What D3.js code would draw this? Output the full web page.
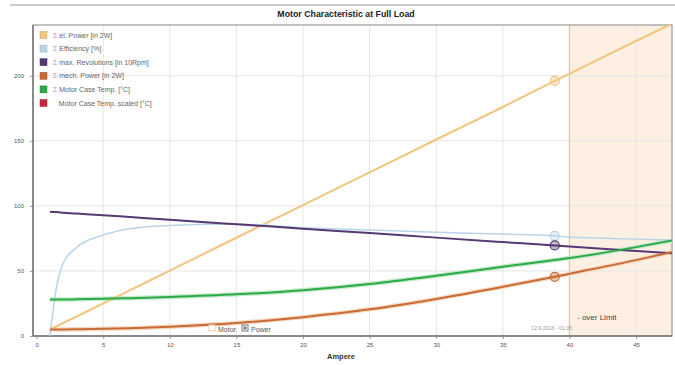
<!DOCTYPE html>
<html>
<head>
<meta charset="utf-8">
<script src="https://cdn.jsdelivr.net/npm/d3@7"></script>
<style>
  body { margin: 0; background: #fff; font-family: "Liberation Sans", Arial, sans-serif; }
  svg text { font-family: "Liberation Sans", Arial, sans-serif; }
</style>
</head>
<body>
<svg id="chart" width="675" height="365"></svg>
<script>
// values
const ampere      = [1, 1.5, 2, 3, 5, 7, 10, 15, 20, 25, 30, 35, 38.9, 40, 45, 47.7];
const elPower     = [5, 7.5, 10, 15, 25, 35, 50.3, 75.5, 100.6, 125.8, 151, 176, 196, 201.5, 226.7, 240];
const efficiency  = [0, 38, 56, 68, 77.5, 82.5, 85, 86, 83.2, 81.5, 79.8, 78.3, 77, 76, 74.5, 73.5];
const revolutions = [95.5, 95.2, 94.8, 94.1, 92.8, 91.4, 89.3, 85.9, 82.5, 79.1, 75.6, 72.2, 69.6, 68.8, 65.4, 63.5];
const mechPower   = [5, 5, 5.05, 5.15, 5.5, 6, 7.2, 10, 14.5, 20.5, 28.5, 37.8, 45.5, 47.8, 58.3, 64.5];
const caseTemp    = [28, 28, 28, 28.2, 28.6, 29.1, 30, 32, 35.2, 40, 46.3, 53.2, 58.4, 59.9, 68.3, 73.5];

const xTicks = [0, 5, 10, 15, 20, 25, 30, 35, 40, 45];
const yTicks = [0, 50, 100, 150, 200];
const markerAmpere = 38.9;
const overLimit = 40;

const seriesNames = [
  'el. Power [in 2W]',
  'Efficiency [%]',
  'max. Revolutions [in 10Rpm]',
  'mech. Power [in 2W]',
  'Motor Case Temp. [°C]',
  'Motor Case Temp. scaled [°C]'
];
const seriesSum = [true, true, true, true, true, false];
const seriesColors = ['#f2c47c', '#b9d5e8', '#563873', '#c76b38', '#2caa48', '#c42a3c'];
const seriesValues = [elPower, efficiency, revolutions, mechPower, caseTemp, null];

const svg = d3.select('#chart');
const plotLeft = 33, plotRight = 672, plotTop = 25, plotBottom = 336;

const x = d3.scaleLinear().domain([-0.27, 47.7]).range([plotLeft, plotRight]);
const y = d3.scaleLinear().domain([0, 239]).range([plotBottom, plotTop]);

// title bar
svg.append('line')
  .attr('x1', 10).attr('x2', 675).attr('y1', 5).attr('y2', 5)
  .attr('stroke', '#bbb').attr('stroke-width', 1.5);
svg.append('text')
  .attr('x', 346).attr('y', 17)
  .attr('text-anchor', 'middle')
  .style('font-size', '8.8px').style('font-weight', 'bold').attr('fill', '#222')
  .text('Motor Characteristic at Full Load');

// over limit region
svg.append('rect')
  .attr('x', x(overLimit)).attr('y', plotTop)
  .attr('width', plotRight - x(overLimit)).attr('height', plotBottom - plotTop)
  .attr('fill', '#fdf0e2');

// grid
svg.append('g').selectAll('line')
  .data(xTicks.filter(d => d > 0))
  .enter().append('line')
  .attr('x1', d => x(d)).attr('x2', d => x(d))
  .attr('y1', plotTop).attr('y2', plotBottom)
  .attr('stroke', '#e6e6e6');
svg.append('g').selectAll('line')
  .data(yTicks.filter(d => d > 0))
  .enter().append('line')
  .attr('x1', plotLeft).attr('x2', plotRight)
  .attr('y1', d => y(d)).attr('y2', d => y(d))
  .attr('stroke', '#e6e6e6');

svg.append('line')
  .attr('x1', x(overLimit)).attr('x2', x(overLimit))
  .attr('y1', plotTop).attr('y2', plotBottom)
  .attr('stroke', '#d9bfa6').attr('stroke-width', 1);

// axes
const xAxis = svg.append('g')
  .attr('transform', 'translate(0,' + plotBottom + ')')
  .call(d3.axisBottom(x).tickValues(xTicks).tickSize(3).tickPadding(4));
const yAxis = svg.append('g')
  .attr('transform', 'translate(' + plotLeft + ',0)')
  .call(d3.axisLeft(y).tickValues(yTicks).tickSize(3).tickPadding(6));
[xAxis, yAxis].forEach(a => {
  a.select('.domain').remove();
  a.selectAll('line').attr('stroke', '#999');
  a.selectAll('text').style('font-size', '6px').attr('fill', '#555');
});

// plot border
svg.append('rect')
  .attr('x', plotLeft).attr('y', plotTop)
  .attr('width', plotRight - plotLeft).attr('height', plotBottom - plotTop)
  .attr('fill', 'none').attr('stroke', '#999').attr('stroke-width', 1.2);
svg.append('line')
  .attr('x1', plotLeft).attr('x2', plotRight).attr('y1', plotBottom).attr('y2', plotBottom)
  .attr('stroke', '#777').attr('stroke-width', 1.5);
svg.append('line')
  .attr('x1', plotLeft).attr('x2', plotLeft).attr('y1', plotTop).attr('y2', plotBottom)
  .attr('stroke', '#777').attr('stroke-width', 1.5);

svg.append('text')
  .attr('x', 341).attr('y', 359)
  .attr('text-anchor', 'middle')
  .style('font-size', '7.5px').style('font-weight', 'bold').attr('fill', '#333')
  .text('Ampere');

// over limit label and timestamp
svg.append('text')
  .attr('x', 577).attr('y', 320)
  .style('font-size', '8px').attr('fill', '#444')
  .text('- over Limit');
svg.append('text')
  .attr('x', 572).attr('y', 330)
  .attr('text-anchor', 'end')
  .style('font-size', '5.2px').attr('fill', '#999')
  .text('12.9.2016 - 01:05');

// lines
svg.append('clipPath').attr('id', 'plot-clip')
  .append('rect').attr('x', plotLeft).attr('y', plotTop)
  .attr('width', plotRight - plotLeft).attr('height', plotBottom - plotTop);

const line = d3.line()
  .x((d, i) => x(ampere[i]))
  .y(d => y(d))
  .curve(d3.curveMonotoneX);

const lines = svg.append('g').attr('clip-path', 'url(#plot-clip)');

// soft halo under the temperature and mech power lines
lines.append('path')
  .attr('d', line(caseTemp))
  .attr('fill', 'none').attr('stroke', '#c4eacb').attr('stroke-width', 4.5);
lines.append('path')
  .attr('d', line(mechPower))
  .attr('fill', 'none').attr('stroke', '#f7d9bf').attr('stroke-width', 4.5);

[0, 1, 2, 3, 4].forEach(k => {
  lines.append('path')
    .attr('d', line(seriesValues[k]))
    .attr('fill', 'none')
    .attr('stroke', seriesColors[k])
    .attr('stroke-width', k === 1 ? 1.5 : 2);
});

// markers at the rated point
const mi = ampere.indexOf(markerAmpere);
[0, 1, 2, 3].forEach(k => {
  svg.append('circle')
    .attr('cx', x(markerAmpere)).attr('cy', y(seriesValues[k][mi]))
    .attr('r', 4.5)
    .attr('fill', seriesColors[k]).attr('fill-opacity', 0.35)
    .attr('stroke', seriesColors[k]).attr('stroke-width', 1.2);
});

// legend
const legend = svg.append('g');
seriesNames.forEach((name, k) => {
  const ly = 35 + k * 13.6;
  legend.append('rect')
    .attr('x', 40).attr('y', ly - 3.5)
    .attr('width', 7).attr('height', 7)
    .attr('fill', seriesColors[k])
    .attr('stroke', d3.color(seriesColors[k]).darker(0.5)).attr('stroke-width', 0.5);
  const t = legend.append('text')
    .attr('x', 53).attr('y', ly + 2.5)
    .style('font-size', '7px').attr('fill', '#666');
  if (seriesSum[k]) {
    t.append('tspan').attr('fill', '#d48aa8').text('Σ ');
  } else {
    t.append('tspan').text('\u00a0\u00a0\u00a0');
  }
  t.append('tspan').text(name);
});

// bottom toggles
const toggle = svg.append('g');
toggle.append('rect')
  .attr('x', 209).attr('y', 325).attr('width', 6).attr('height', 6)
  .attr('fill', '#fff').attr('stroke', '#f0c9a8');
toggle.append('text')
  .attr('x', 218).attr('y', 331.5)
  .style('font-size', '7px').attr('fill', '#555').text('Motor');
toggle.append('rect')
  .attr('x', 242).attr('y', 325).attr('width', 6).attr('height', 6)
  .attr('fill', '#fff').attr('stroke', '#777');
toggle.append('rect')
  .attr('x', 243.5).attr('y', 326.5).attr('width', 3).attr('height', 3)
  .attr('fill', '#777');
toggle.append('text')
  .attr('x', 251).attr('y', 331.5)
  .style('font-size', '7px').attr('fill', '#555').text('Power');
</script>
</body>
</html>
